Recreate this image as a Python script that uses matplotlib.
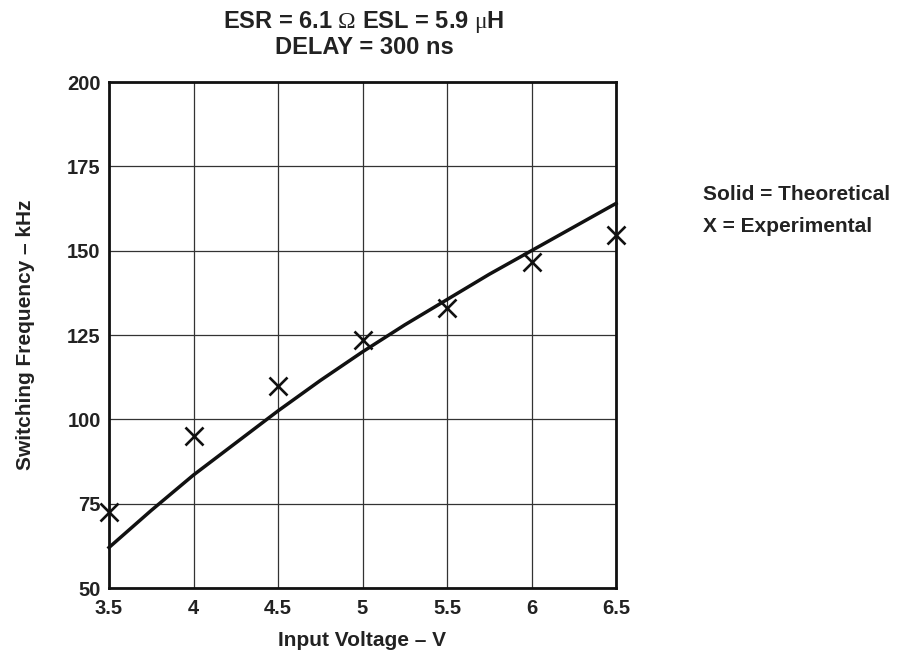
import matplotlib
matplotlib.use("Agg")
import matplotlib.pyplot as plt

plt.rcParams['font.family'] = ['Liberation Sans', 'DejaVu Sans']
plt.rcParams['mathtext.fontset'] = 'custom'
plt.rcParams['mathtext.rm'] = 'Liberation Serif'
plt.rcParams['mathtext.it'] = 'Liberation Serif'

theory_v = [3.5, 3.75, 4.0, 4.25, 4.5, 4.75, 5.0, 5.25, 5.5, 5.75, 6.0, 6.25, 6.5]
theory_f = [62, 73, 83.5, 93, 102.5, 111.5, 120, 128, 135.5, 143, 150, 157, 164]
exp_v = [3.5, 4.0, 4.5, 5.0, 5.5, 6.0, 6.5]
exp_f = [72.5, 95, 110, 123.5, 133, 146.5, 154.5]
xticks = [3.5, 4, 4.5, 5, 5.5, 6, 6.5]
xticklabels = ['3.5', '4', '4.5', '5', '5.5', '6', '6.5']
yticks = [50, 75, 100, 125, 150, 175, 200]

TXT = '#222222'
fig = plt.figure(figsize=(8.97, 6.54), dpi=100)
ax = fig.add_axes([109/897, 1-588/654, (616-109)/897, (588-82)/654])
ax.plot(theory_v, theory_f, color='#111111', lw=2.5, zorder=3, clip_on=False)
ax.plot(exp_v, exp_f, linestyle='none', marker='x', color='#111111', ms=13.5, mew=1.9, zorder=4, clip_on=False)
ax.set_xlim(3.5, 6.5)
ax.set_ylim(50, 200)
ax.set_xticks(xticks)
ax.set_xticklabels(xticklabels)
ax.set_yticks(yticks)
ax.grid(True, color='#333333', lw=0.9)
for s in ax.spines.values():
    s.set_linewidth(2.0)
    s.set_color('#111111')
ax.tick_params(length=0, labelsize=14.5)
ax.tick_params(axis='x', pad=8)
ax.tick_params(axis='y', pad=6)
for lab in ax.get_xticklabels() + ax.get_yticklabels():
    lab.set_fontweight('bold')
    lab.set_color(TXT)

fig.text(362/897, 1-640/654, 'Input Voltage – V', ha='center', va='center',
         fontsize=15, fontweight='bold', color=TXT)
fig.text(26/897, 1-335/654, 'Switching Frequency – kHz', ha='center', va='center', rotation=90,
         fontsize=15, fontweight='bold', color=TXT)

fig.text(364/897, 1-22/654, r'ESR = 6.1 $\Omega$ ESL = 5.9 $\mathrm{\mu}$H', ha='center', va='center',
         fontsize=17, fontweight='bold', color=TXT)
fig.text(364/897, 1-48/654, 'DELAY = 300 ns', ha='center', va='center',
         fontsize=17, fontweight='bold', color=TXT)
fig.text(703/897, 1-195/654, 'Solid = Theoretical', ha='left', va='center',
         fontsize=15, fontweight='bold', color=TXT)
fig.text(703/897, 1-226/654, 'X = Experimental', ha='left', va='center',
         fontsize=15, fontweight='bold', color=TXT)

fig.savefig('out.png', dpi=100)
